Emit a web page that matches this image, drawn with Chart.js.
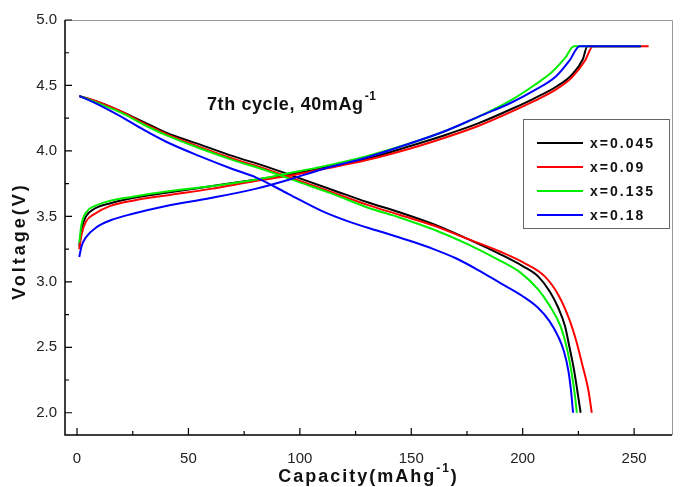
<!DOCTYPE html>
<html>
<head>
<meta charset="utf-8">
<script src="https://cdn.jsdelivr.net/npm/chart.js@4/dist/chart.umd.min.js"></script>
<style>
  html, body { margin: 0; padding: 0; background: #fff; }
  #wrap { width: 683px; height: 487px; }
</style>
</head>
<body>
<div id="wrap"><canvas id="c" width="683" height="487"></canvas></div>
<script>
// tick positions
const xTicks = [0, 50, 100, 150, 200, 250];
const xMinor = [25, 75, 125, 175, 225];
const yTicks = [2.0, 2.5, 3.0, 3.5, 4.0, 4.5, 5.0];
const yMinor = [2.25, 2.75, 3.25, 3.75, 4.25, 4.75];

const labels = ["x=0.045", "x=0.09", "x=0.135", "x=0.18"];
const colors = ["#000000", "#ff0000", "#00ee00", "#0000ff"];

// charge curves [capacity, voltage]
const charge045 = [[1,3.27],[2,3.40],[4,3.50],[8,3.56],[15,3.60],[25,3.64],[40,3.68],[60,3.73],[80,3.78],[95,3.82],[110,3.87],[130,3.94],[150,4.04],[165,4.12],[180,4.21],[195,4.32],[205,4.40],[215,4.49],[222,4.58],[227,4.70],[229,4.8],[253,4.8]];
const charge09  = [[1,3.25],[2,3.36],[4,3.46],[8,3.52],[15,3.58],[25,3.62],[40,3.66],[60,3.71],[80,3.77],[95,3.81],[110,3.86],[130,3.93],[150,4.02],[165,4.10],[180,4.19],[195,4.30],[205,4.38],[215,4.47],[222,4.56],[228,4.69],[231.5,4.8],[256.5,4.8]];
const charge135 = [[1,3.30],[2,3.44],[4,3.53],[8,3.58],[15,3.62],[25,3.65],[40,3.69],[60,3.73],[80,3.78],[95,3.83],[110,3.88],[130,3.96],[150,4.06],[165,4.15],[180,4.26],[195,4.39],[205,4.50],[213,4.60],[219,4.71],[223,4.8],[253,4.8]];
const charge18  = [[1,3.19],[2,3.27],[4,3.34],[9,3.42],[15,3.47],[25,3.52],[40,3.58],[60,3.64],[80,3.71],[95,3.78],[110,3.86],[130,3.95],[150,4.06],[165,4.15],[180,4.26],[195,4.37],[205,4.46],[215,4.57],[221,4.69],[225.5,4.8],[253,4.8]];

// discharge curves [capacity, voltage]
const discharge045 = [[1,4.42],[10,4.37],[20,4.30],[30,4.22],[40,4.14],[55,4.05],[70,3.96],[85,3.88],[100,3.79],[115,3.70],[130,3.61],[145,3.53],[160,3.44],[175,3.33],[190,3.21],[200,3.12],[207,3.04],[212,2.93],[216,2.80],[219,2.66],[221,2.50],[223,2.33],[224.5,2.17],[226,2.0]];
const discharge09  = [[1,4.42],[10,4.37],[20,4.30],[30,4.21],[40,4.13],[55,4.03],[70,3.94],[85,3.86],[100,3.77],[115,3.68],[130,3.59],[145,3.51],[160,3.43],[175,3.33],[190,3.23],[200,3.15],[210,3.04],[216,2.90],[221,2.71],[224,2.55],[227,2.35],[229.5,2.17],[231,2.0]];
const discharge135 = [[1,4.42],[10,4.36],[20,4.29],[30,4.20],[40,4.12],[55,4.02],[70,3.93],[85,3.85],[100,3.76],[115,3.67],[130,3.57],[145,3.49],[160,3.40],[175,3.29],[190,3.16],[199,3.07],[207,2.94],[212,2.82],[217,2.66],[220,2.48],[222,2.30],[223.3,2.15],[224.3,2.0]];
const discharge18  = [[1,4.42],[10,4.35],[20,4.26],[30,4.16],[40,4.07],[55,3.96],[70,3.86],[80,3.80],[95,3.67],[110,3.54],[122,3.46],[135,3.39],[150,3.31],[160,3.25],[170,3.18],[180,3.09],[190,2.99],[200,2.89],[207,2.80],[212,2.70],[216,2.58],[218.5,2.47],[220.5,2.32],[221.8,2.15],[222.6,2.0]];

const charges = [charge045, charge09, charge135, charge18];
const discharges = [discharge045, discharge09, discharge135, discharge18];

const FONT = '"Liberation Sans", Arial, sans-serif';

function line(pts, i, kind) {
  return {
    label: labels[i] + " " + kind,
    data: pts.map(p => ({ x: p[0], y: p[1] })),
    borderColor: colors[i],
    borderWidth: 2,
    pointRadius: 0,
    fill: false,
    cubicInterpolationMode: "monotone",
    order: 3 - i, // bleu au-dessus
  };
}

const datasets = [];
charges.forEach((c, i) => datasets.push(line(c, i, "charge")));
discharges.forEach((d, i) => datasets.push(line(d, i, "discharge")));

// cadre, ticks internes, titres, légende
const decor = {
  id: "decor",
  afterDraw(chart) {
    const { ctx, chartArea: a, scales: { x, y } } = chart;
    ctx.save();

    // cadre haut/droite (gris)
    ctx.strokeStyle = "#9a9a9a";
    ctx.lineWidth = 1;
    ctx.beginPath();
    ctx.moveTo(a.left, a.top + 0.5);
    ctx.lineTo(a.right + 0.5, a.top + 0.5);
    ctx.lineTo(a.right + 0.5, a.bottom);
    ctx.stroke();

    // axes gauche/bas
    ctx.strokeStyle = "#000";
    ctx.lineWidth = 1.5;
    ctx.beginPath();
    ctx.moveTo(a.left, a.top);
    ctx.lineTo(a.left, a.bottom);
    ctx.lineTo(a.right, a.bottom);
    ctx.stroke();

    // ticks
    ctx.lineWidth = 1.2;
    ctx.beginPath();
    xTicks.forEach(v => { const px = x.getPixelForValue(v); ctx.moveTo(px, a.bottom); ctx.lineTo(px, a.bottom - 7); });
    xMinor.forEach(v => { const px = x.getPixelForValue(v); ctx.moveTo(px, a.bottom); ctx.lineTo(px, a.bottom - 4); });
    yTicks.forEach(v => { const py = y.getPixelForValue(v); ctx.moveTo(a.left, py); ctx.lineTo(a.left + 7, py); });
    yMinor.forEach(v => { const py = y.getPixelForValue(v); ctx.moveTo(a.left, py); ctx.lineTo(a.left + 4, py); });
    ctx.stroke();

    ctx.fillStyle = "#111";
    ctx.textBaseline = "alphabetic";

    // annotation
    ctx.font = "bold 18px " + FONT;
    ctx.letterSpacing = "0.6px";
    ctx.textAlign = "left";
    const ann = "7th cycle, 40mAg";
    ctx.fillText(ann, 207, 110);
    const aw = ctx.measureText(ann).width;
    ctx.font = "bold 12px " + FONT;
    ctx.fillText("-1", 207 + aw + 1, 100);

    // titre x
    ctx.font = "bold 18px " + FONT;
    ctx.letterSpacing = "2px";
    const t1 = "Capacity(mAhg", t3 = ")";
    const w1 = ctx.measureText(t1).width;
    const w3 = ctx.measureText(t3).width;
    ctx.font = "bold 12px " + FONT;
    const w2 = ctx.measureText("-1").width;
    let sx = (a.left + a.right) / 2 - (w1 + w2 + w3) / 2;
    ctx.font = "bold 18px " + FONT;
    ctx.fillText(t1, sx, 482);
    ctx.font = "bold 12px " + FONT;
    ctx.fillText("-1", sx + w1, 472);
    ctx.font = "bold 18px " + FONT;
    ctx.fillText(t3, sx + w1 + w2, 482);

    // titre y
    ctx.save();
    ctx.translate(25, 241);
    ctx.rotate(-Math.PI / 2);
    ctx.font = "bold 18px " + FONT;
    ctx.letterSpacing = "3px";
    ctx.textAlign = "center";
    ctx.fillText("Voltage(V)", 0, 0);
    ctx.restore();

    // légende
    const bx = 523, by = 119, bw = 146, bh = 109;
    ctx.fillStyle = "#fff";
    ctx.fillRect(bx, by, bw, bh);
    ctx.strokeStyle = "#666";
    ctx.lineWidth = 1;
    ctx.strokeRect(bx + 0.5, by + 0.5, bw, bh);
    ctx.font = "bold 14px " + FONT;
    ctx.letterSpacing = "2px";
    ctx.textAlign = "left";
    ctx.textBaseline = "middle";
    labels.forEach((lab, i) => {
      const ly = 143 + i * 24;
      ctx.strokeStyle = colors[i];
      ctx.lineWidth = 2;
      ctx.beginPath();
      ctx.moveTo(537, ly);
      ctx.lineTo(583, ly);
      ctx.stroke();
      ctx.fillStyle = "#111";
      ctx.fillText(lab, 590, ly + 1);
    });

    ctx.restore();
  },
};

new Chart(document.getElementById("c"), {
  type: "line",
  data: { datasets },
  options: {
    responsive: false,
    animation: false,
    layout: { padding: { top: 20, right: 11, left: 0, bottom: 0 } },
    plugins: { legend: { display: false }, tooltip: { enabled: false } },
    scales: {
      x: {
        type: "linear",
        min: -5.4,
        max: 267,
        afterBuildTicks: s => { s.ticks = xTicks.map(v => ({ value: v })); },
        afterFit: s => { s.height = 52; },
        grid: { display: false, drawTicks: false, tickLength: 0 },
        border: { display: false },
        ticks: { padding: 15, color: "#222", font: { family: FONT, size: 15 }, maxRotation: 0, autoSkip: false },
      },
      y: {
        type: "linear",
        min: 1.83,
        max: 5.0,
        afterBuildTicks: s => { s.ticks = yTicks.map(v => ({ value: v })); },
        afterFit: s => { s.width = 65; },
        grid: { display: false, drawTicks: false, tickLength: 0 },
        border: { display: false },
        ticks: { padding: 8, color: "#222", font: { family: FONT, size: 15 }, callback: v => v.toFixed(1) },
      },
    },
  },
  plugins: [decor],
});
</script>
</body>
</html>
